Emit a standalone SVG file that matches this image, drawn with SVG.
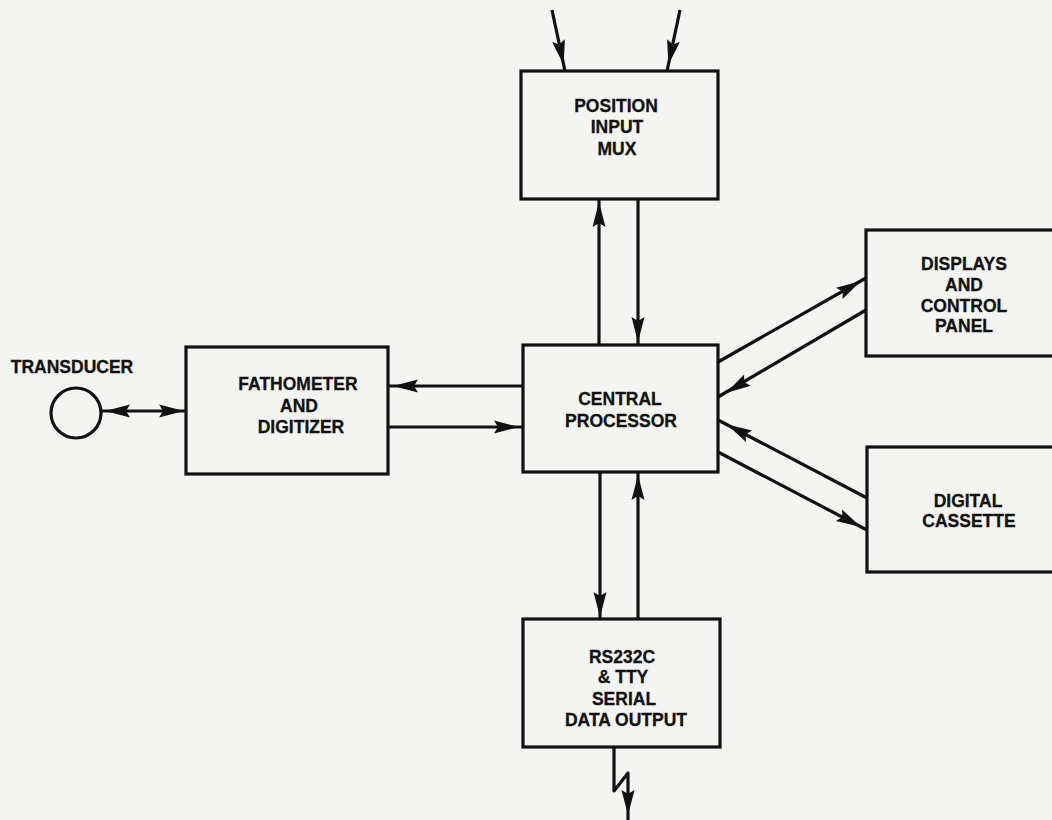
<svg xmlns="http://www.w3.org/2000/svg" xmlns:xlink="http://www.w3.org/1999/xlink" width="1052" height="820" viewBox="0 0 1052 820">
<style>
.box{fill:none;stroke:#111;stroke-width:3.2}
.ln{fill:none;stroke:#111;stroke-width:3.2;stroke-linejoin:round}
.t{font-family:"Liberation Sans",Arial,sans-serif;font-weight:bold;font-size:17.5px;fill:#111;stroke:#111;stroke-width:0.3;text-anchor:middle}
</style>
<defs>
<path id="ah" d="M0,0 L-25,-6.5 L-21,0 L-25,6.5 Z" fill="#111"/>
</defs>
<rect x="0" y="0" width="1052" height="820" fill="#f4f4f2"/>
<g id="mux">
<rect class="box" x="521" y="71" width="197" height="128"/>
<text class="t" x="616" y="112">POSITION</text>
<text class="t" x="617" y="133">INPUT</text>
<text class="t" x="617" y="155">MUX</text>
</g>
<g id="cpu">
<rect class="box" x="523" y="345" width="195" height="127"/>
<text class="t" x="620" y="405">CENTRAL</text>
<text class="t" x="621" y="427">PROCESSOR</text>
</g>
<g id="fatho">
<rect class="box" x="186" y="347" width="202" height="127"/>
<text class="t" x="298" y="390">FATHOMETER</text>
<text class="t" x="299" y="412">AND</text>
<text class="t" x="301" y="433">DIGITIZER</text>
</g>
<g id="transducer">
<circle cx="76" cy="413" r="25" fill="none" stroke="#111" stroke-width="3.2"/>
<text class="t" x="72" y="373">TRANSDUCER</text>
</g>
<g id="displays">
<rect class="box" x="866" y="230" width="200" height="126"/>
<text class="t" x="964" y="270">DISPLAYS</text>
<text class="t" x="964" y="291">AND</text>
<text class="t" x="964" y="312">CONTROL</text>
<text class="t" x="964" y="332">PANEL</text>
</g>
<g id="cassette">
<rect class="box" x="867" y="447" width="200" height="125"/>
<text class="t" x="968" y="507">DIGITAL</text>
<text class="t" x="969" y="527">CASSETTE</text>
</g>
<g id="serial">
<rect class="box" x="523" y="619" width="197" height="128"/>
<text class="t" x="622" y="663">RS232C</text>
<text class="t" x="623" y="683">&amp; TTY</text>
<text class="t" x="624" y="705">SERIAL</text>
<text class="t" x="626" y="726">DATA OUTPUT</text>
</g>
<g id="connectors">
<line class="ln" x1="552" y1="10" x2="565" y2="71"/>
<use xlink:href="#ah" transform="translate(563.7,65) rotate(77.97)"/>
<line class="ln" x1="680" y1="10" x2="667" y2="71"/>
<use xlink:href="#ah" transform="translate(668.3,65) rotate(102.03)"/>
<line class="ln" x1="599" y1="199" x2="599" y2="345"/>
<use xlink:href="#ah" transform="translate(599,202) rotate(-90)"/>
<line class="ln" x1="638" y1="199" x2="638" y2="345"/>
<use xlink:href="#ah" transform="translate(638,342) rotate(90)"/>
<line class="ln" x1="388" y1="386" x2="523" y2="386"/>
<use xlink:href="#ah" transform="translate(393,386) rotate(180)"/>
<line class="ln" x1="388" y1="427" x2="523" y2="427"/>
<use xlink:href="#ah" transform="translate(519,427) rotate(0)"/>
<line class="ln" x1="101" y1="411" x2="186" y2="411"/>
<use xlink:href="#ah" transform="translate(105,411) rotate(180)"/>
<use xlink:href="#ah" transform="translate(184,411) rotate(0)"/>
<line class="ln" x1="718" y1="362" x2="866" y2="278"/>
<use xlink:href="#ah" transform="translate(861,281) rotate(-29.9)"/>
<line class="ln" x1="866" y1="310" x2="718" y2="397"/>
<use xlink:href="#ah" transform="translate(726,393) rotate(149.2)"/>
<line class="ln" x1="867" y1="498" x2="718" y2="420"/>
<use xlink:href="#ah" transform="translate(727,424.5) rotate(-151.9)"/>
<line class="ln" x1="718" y1="452" x2="867" y2="530"/>
<use xlink:href="#ah" transform="translate(861,527) rotate(28.1)"/>
<line class="ln" x1="600" y1="472" x2="600" y2="619"/>
<use xlink:href="#ah" transform="translate(600,617) rotate(90)"/>
<line class="ln" x1="638" y1="472" x2="638" y2="619"/>
<use xlink:href="#ah" transform="translate(638,475) rotate(-90)"/>
<path class="ln" d="M614,747 L614,791 L628,773 L628,820"/>
<use xlink:href="#ah" transform="translate(628,815) rotate(90)"/>
</g>
</svg>
